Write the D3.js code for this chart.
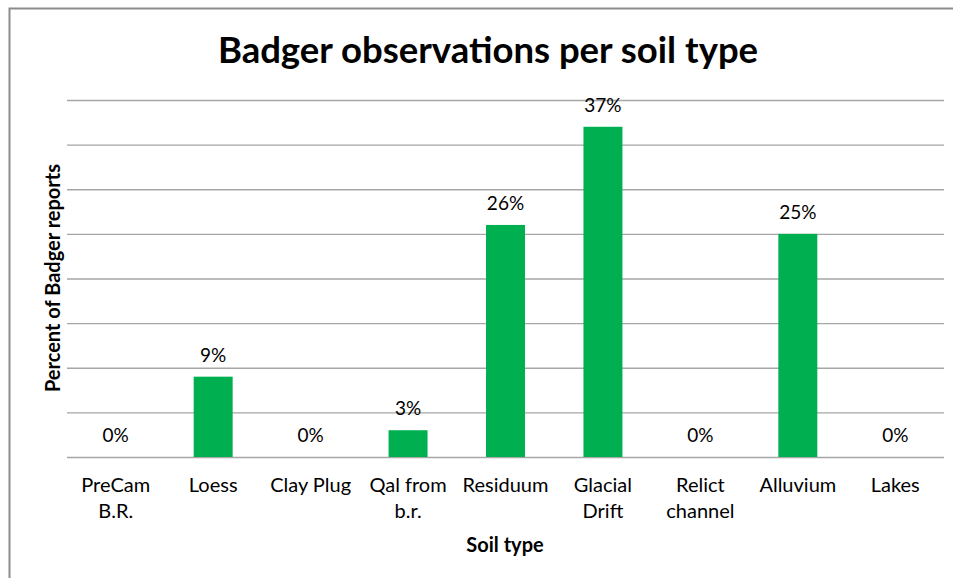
<!DOCTYPE html>
<html>
<head>
<meta charset="utf-8">
<script src="https://cdn.jsdelivr.net/npm/d3@7"></script>
<style>
  html, body { margin: 0; padding: 0; background: #fff; }
  svg { display: block; font-family: Lato, "Open Sans", sans-serif; }
</style>
</head>
<body>
<svg id="chart" width="953" height="578"></svg>
<script>
// Soil types (two-line labels are split on "\n")
const categories = [
  "PreCam\nB.R.", "Loess", "Clay Plug", "Qal from\nb.r.", "Residuum",
  "Glacial\nDrift", "Relict\nchannel", "Alluvium", "Lakes"
];
// Share of badger reports per soil type, in percent
const values = [0, 9, 0, 3, 26, 37, 0, 25, 0];
// Gridline levels on the value axis
const gridTicks = [0, 5, 10, 15, 20, 25, 30, 35, 40];

const svg = d3.select("#chart");
const W = 953, H = 578;
const plot = { left: 67, right: 944, top: 100, bottom: 457 };

// Outer chart frame
svg.append("rect")
  .attr("x", 9.5).attr("y", 8.5)
  .attr("width", W + 10).attr("height", H + 10)
  .attr("fill", "#fff").attr("stroke", "#8c8c8c").attr("stroke-width", 2);

const x = d3.scaleBand()
  .domain(categories)
  .range([plot.left, plot.right])
  .paddingInner(0.6).paddingOuter(0.3);

const y = d3.scaleLinear()
  .domain([0, 40])
  .range([plot.bottom, plot.top]);

// Horizontal gridlines (no tick labels)
const grid = svg.append("g")
  .attr("transform", `translate(${plot.left},0)`)
  .call(d3.axisLeft(y).tickValues(gridTicks)
    .tickSize(-(plot.right - plot.left)).tickFormat(""));
grid.select(".domain").remove();
grid.selectAll(".tick line")
  .attr("stroke", "#a6a6a6").attr("stroke-width", 1.3);

// Bars
svg.append("g").selectAll("rect")
  .data(values)
  .join("rect")
  .attr("x", (d, i) => x(categories[i]))
  .attr("width", x.bandwidth())
  .attr("y", d => y(d))
  .attr("height", d => y(0) - y(d))
  .attr("fill", "#00b050");

// Value labels above bars
svg.append("g").selectAll("text")
  .data(values)
  .join("text")
  .attr("x", (d, i) => x(categories[i]) + x.bandwidth() / 2)
  .attr("y", d => y(d) - 15)
  .attr("text-anchor", "middle")
  .attr("font-size", 19)
  .attr("fill", "#000")
  .text(d => d + "%");

// Category labels
const cat = svg.append("g").selectAll("text")
  .data(categories)
  .join("text")
  .attr("text-anchor", "middle")
  .attr("font-size", 20)
  .attr("fill", "#000");
cat.each(function (c) {
  const t = d3.select(this);
  c.split("\n").forEach((line, k) => {
    t.append("tspan")
      .attr("x", x(c) + x.bandwidth() / 2)
      .attr("y", 492 + k * 26)
      .text(line);
  });
});

// Title
svg.append("text")
  .attr("x", 488).attr("y", 63)
  .attr("text-anchor", "middle")
  .attr("font-size", 36.5).attr("font-weight", "bold")
  .text("Badger observations per soil type");

// Axis titles
svg.append("text")
  .attr("x", 505).attr("y", 552)
  .attr("text-anchor", "middle")
  .attr("font-size", 20).attr("font-weight", "bold")
  .text("Soil type");

svg.append("text")
  .attr("transform", "translate(60,278) rotate(-90)")
  .attr("text-anchor", "middle")
  .attr("font-size", 20).attr("font-weight", "bold")
  .text("Percent of Badger reports");
</script>
</body>
</html>
